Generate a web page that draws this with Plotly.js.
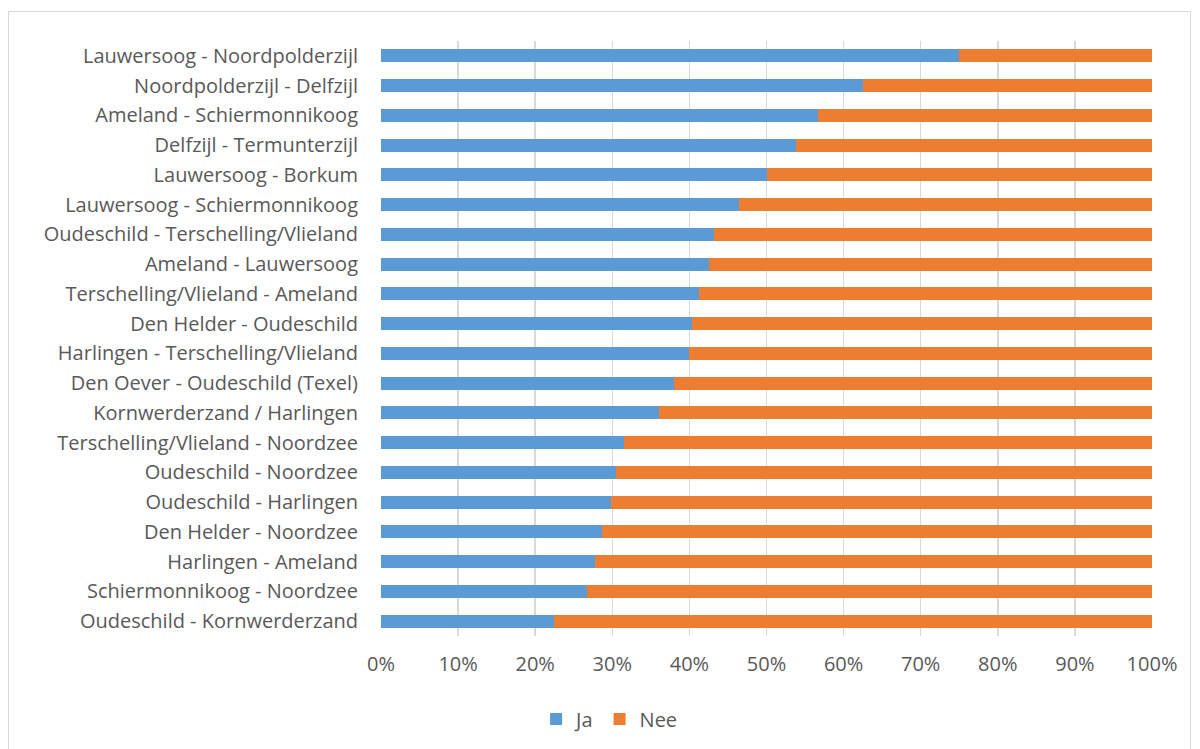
<!DOCTYPE html>
<html>
<head>
<meta charset="utf-8">
<script src="https://cdn.plot.ly/plotly-3.0.1.min.js"></script>
<style>
html,body{margin:0;padding:0;background:#fff;}
#wrap{position:relative;width:1200px;height:749px;overflow:hidden;}
#frame{position:absolute;left:8px;top:11px;width:1183px;height:760px;border:1px solid #d9d9d9;box-sizing:border-box;pointer-events:none;}
#chart{position:absolute;left:0;top:0;width:1200px;height:749px;}
</style>
</head>
<body>
<div id="wrap">
<div id="chart"></div>
<div id="frame"></div>
</div>
<script>
const routes = [
  "Lauwersoog - Noordpolderzijl",
  "Noordpolderzijl - Delfzijl",
  "Ameland - Schiermonnikoog",
  "Delfzijl - Termunterzijl",
  "Lauwersoog - Borkum",
  "Lauwersoog - Schiermonnikoog",
  "Oudeschild - Terschelling/Vlieland",
  "Ameland - Lauwersoog",
  "Terschelling/Vlieland - Ameland",
  "Den Helder - Oudeschild",
  "Harlingen - Terschelling/Vlieland",
  "Den Oever - Oudeschild (Texel)",
  "Kornwerderzand / Harlingen",
  "Terschelling/Vlieland - Noordzee",
  "Oudeschild - Noordzee",
  "Oudeschild - Harlingen",
  "Den Helder - Noordzee",
  "Harlingen - Ameland",
  "Schiermonnikoog - Noordzee",
  "Oudeschild - Kornwerderzand"
];
const ja = [75.0, 62.5, 56.7, 53.8, 50.0, 46.4, 43.2, 42.6, 41.3, 40.4, 39.9, 38.0, 36.1, 31.5, 30.5, 29.8, 28.6, 27.7, 26.7, 22.4];
const nee = [25.0, 37.5, 43.3, 46.2, 50.0, 53.6, 56.8, 57.4, 58.7, 59.6, 60.1, 62.0, 63.9, 68.5, 69.5, 70.2, 71.4, 72.3, 73.3, 77.6];
const xTicks = [0,10,20,30,40,50,60,70,80,90,100];
const xTickText = xTicks.map(v => v + "%");

const font = {family: "'Open Sans', sans-serif", size: 20, color: "#595959"};

const data = [
  {type: "bar", orientation: "h", name: "Ja", y: routes, x: ja.map(v => v/100),
   marker: {color: "#5B9BD5"}, hoverinfo: "name+x+y"},
  {type: "bar", orientation: "h", name: "Nee", y: routes, x: nee.map(v => v/100),
   marker: {color: "#ED7D31"}, hoverinfo: "name+x+y"}
];

const layout = {
  width: 1200, height: 749,
  barmode: "stack",
  bargap: 0.57,
  paper_bgcolor: "rgba(0,0,0,0)",
  plot_bgcolor: "#fff",
  margin: {l: 381, r: 48, t: 41, b: 113},
  font: font,
  showlegend: true,
  legend: {orientation: "h", xref: "container", yref: "container", x: 0.508, xanchor: "center", y: 0.04, yanchor: "middle",
           font: font, itemwidth: 30, traceorder: "normal"},
  xaxis: {range: [0, 1], tickvals: xTicks.map(v => v/100), ticktext: xTickText,
          showgrid: true, gridcolor: "#d9d9d9", gridwidth: 1.5, zeroline: false, showline: false,
          ticks: "", ticklabelstandoff: 14, tickfont: font, fixedrange: true},
  yaxis: {autorange: "reversed", type: "category", showgrid: false, zeroline: false, showline: false,
          ticks: "", ticklabelstandoff: 22, tickfont: font, fixedrange: true}
};

Plotly.newPlot("chart", data, layout, {displayModeBar: false, staticPlot: true});
</script>
</body>
</html>
